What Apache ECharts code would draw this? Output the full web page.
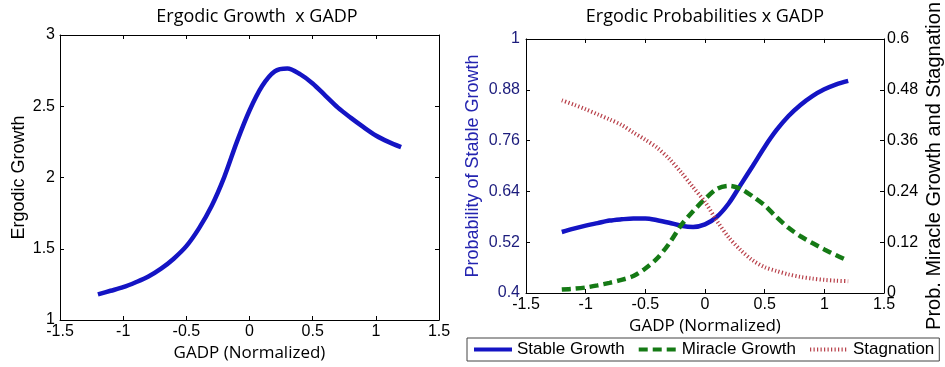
<!DOCTYPE html>
<html>
<head>
<meta charset="utf-8">
<script src="https://cdn.jsdelivr.net/npm/echarts@6/dist/echarts.min.js"></script>
<style>
html,body{margin:0;padding:0;background:#fff;}
#main{width:945px;height:367px;}
</style>
</head>
<body>
<div id="main"></div>
<script>
// ---- data ----
const gadp = [-1.2,-1.1,-1.0,-0.9,-0.8,-0.7,-0.6,-0.5,-0.4,-0.3,-0.2,-0.1,0.0,0.1,0.2,0.3,0.4,0.5,0.6,0.7,0.8,0.9,1.0,1.1,1.2];
const ergodicGrowth = [1.18,1.205,1.23,1.265,1.305,1.36,1.43,1.518,1.643,1.80,2.003,2.25,2.47,2.642,2.745,2.765,2.725,2.66,2.575,2.49,2.42,2.355,2.295,2.25,2.213];
const stableGrowth = [0.544,0.552,0.559,0.565,0.571,0.574,0.576,0.576,0.572,0.566,0.559,0.556,0.562,0.58,0.612,0.656,0.70,0.745,0.785,0.818,0.844,0.865,0.881,0.893,0.901];
const miracleGrowth = [0.008,0.010,0.013,0.018,0.024,0.031,0.040,0.058,0.082,0.117,0.160,0.193,0.222,0.246,0.253,0.246,0.228,0.207,0.179,0.154,0.134,0.118,0.103,0.089,0.076];
const stagnation = [0.455,0.445,0.434,0.422,0.410,0.397,0.379,0.362,0.343,0.317,0.285,0.250,0.215,0.170,0.131,0.101,0.077,0.061,0.052,0.044,0.038,0.034,0.031,0.029,0.028];
const stableTicks = [0.4,0.52,0.64,0.76,0.88,1];
const seriesNames = ['Stable Growth','Miracle Growth','Stagnation'];

// ---- chart ----
const chart = echarts.init(document.getElementById('main'), null, {renderer:'canvas'});
const pairs = arr => gadp.map((x,i)=>[x,arr[i]]);
const F = 'Liberation Sans';
const TF = 'Open Sans';
const tick = {show:true, inside:true, length:4, lineStyle:{color:'#000'}};
const line = {show:true, onZero:false, lineStyle:{color:'#000', width:1}};

function xMain(gi){
  return {type:'value', gridIndex:gi, position:'bottom', min:-1.5, max:1.5, interval:0.5,
    axisLine:line, axisTick:tick, splitLine:{show:false},
    axisLabel:{color:'#000', fontFamily:F, fontSize:16, margin:4},
    name:'GADP (Normalized)', nameLocation:'middle', nameGap:gi===0?25:20,
    nameTextStyle:{color:'#000', fontFamily:TF, fontSize:17}};
}
function xMirror(gi){
  return {type:'value', gridIndex:gi, position:'top', min:-1.5, max:1.5, interval:0.5,
    axisLine:line, axisTick:tick, axisLabel:{show:false}, splitLine:{show:false}};
}

const option = {
  animation:false,
  backgroundColor:'#fff',
  title:[
    {text:'Ergodic Growth  x GADP', left:252, top:3, textAlign:'center',
     textStyle:{fontFamily:TF, fontSize:18, fontWeight:'normal', color:'#000'}},
    {text:'Ergodic Probabilities x GADP', left:700, top:3, textAlign:'center',
     textStyle:{fontFamily:TF, fontSize:18, fontWeight:'normal', color:'#000'}}
  ],
  grid:[
    {left:60, top:35, width:379, height:286},
    {left:526, top:33, width:361, height:260}
  ],
  xAxis:[xMain(0), xMirror(0), xMain(1), xMirror(1)],
  yAxis:[
    {type:'value', gridIndex:0, position:'left', min:1, max:3, interval:0.5,
     axisLine:line, axisTick:tick, splitLine:{show:false},
     axisLabel:{color:'#000', fontFamily:F, fontSize:16, margin:5},
     name:'Ergodic Growth', nameLocation:'middle', nameGap:32, nameRotate:90,
     nameTextStyle:{color:'#000', fontFamily:F, fontSize:18}},
    {type:'value', gridIndex:0, position:'right', min:1, max:3, interval:0.5,
     axisLine:line, axisTick:tick, axisLabel:{show:false}, splitLine:{show:false}},
    {type:'value', gridIndex:1, position:'left', min:0.4, max:1,
     axisLine:line, axisTick:Object.assign({customValues:stableTicks}, tick), splitLine:{show:false},
     axisLabel:{customValues:stableTicks, color:'#1c1c7c', fontFamily:F, fontSize:16, margin:6},
     name:'Probability of Stable Growth', nameLocation:'middle', nameGap:44, nameRotate:90,
     nameTextStyle:{color:'#2424b0', fontFamily:F, fontSize:18}},
    {type:'value', gridIndex:1, position:'right', min:0, max:0.6, interval:0.12,
     axisLine:line, axisTick:tick, splitLine:{show:false},
     axisLabel:{color:'#000', fontFamily:F, fontSize:16, margin:3},
     name:'Prob. Miracle Growth and Stagnation', nameLocation:'middle', nameGap:40, nameRotate:90,
     nameTextStyle:{color:'#000', fontFamily:F, fontSize:20}}
  ],
  legend:{
    data:seriesNames, left:467, top:338, orient:'horizontal', width:476,
    padding:[3,5], itemGap:12, itemWidth:38, itemHeight:14,
    borderColor:'#444', borderWidth:1, backgroundColor:'#fff',
    itemStyle:{opacity:0},
    lineStyle:{width:4},
    textStyle:{fontFamily:F, fontSize:17, color:'#000'}
  },
  series:[
    {type:'line', name:'Ergodic Growth', xAxisIndex:0, yAxisIndex:0, data:pairs(ergodicGrowth),
     smooth:0.3, symbol:'none', lineStyle:{color:'#1414c4', width:4.5}},
    {type:'line', name:seriesNames[0], xAxisIndex:2, yAxisIndex:2, data:pairs(stableGrowth),
     smooth:0.3, symbol:'none', itemStyle:{color:'#1414c4'}, lineStyle:{color:'#1414c4', width:4.5}},
    {type:'line', name:seriesNames[1], xAxisIndex:2, yAxisIndex:3, data:pairs(miracleGrowth),
     smooth:0.3, symbol:'none', itemStyle:{color:'#157a15'}, lineStyle:{color:'#157a15', width:4.5, type:[9,5]}},
    {type:'line', name:seriesNames[2], xAxisIndex:2, yAxisIndex:3, data:pairs(stagnation),
     smooth:0.3, symbol:'none', itemStyle:{color:'#b8404a'}, lineStyle:{color:'#b8404a', width:4, type:[1.2,2.3]}}
  ]
};
chart.setOption(option);
</script>
</body>
</html>
